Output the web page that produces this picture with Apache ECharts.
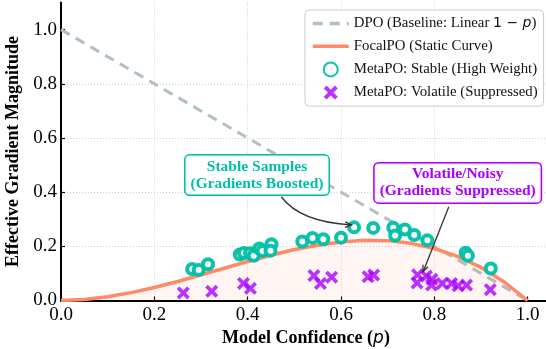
<!DOCTYPE html>
<html><head><meta charset="utf-8">
<script src="https://cdn.jsdelivr.net/npm/echarts@6/dist/echarts.min.js"></script>
<style>html,body{margin:0;padding:0;background:#fff}#c{width:546px;height:349px}</style>
</head><body><div id="c"></div>
<script>
// ---- data ----
const xTicks = [0, 0.2, 0.4, 0.6, 0.8, 1.0];
const yTicks = [0, 0.2, 0.4, 0.6, 0.8, 1.0];
const dpoP = [0, 1];
const dpoV = [1, 0];
const focalP = [0,0.05,0.1,0.15,0.2,0.25,0.3,0.35,0.4,0.45,0.5,0.55,0.6,0.65,0.7,0.75,0.8,0.85,0.9,0.95,1.0];
const focalV = [0,0.004,0.014,0.029,0.048,0.070,0.095,0.119,0.144,0.167,0.188,0.204,0.216,0.222,0.221,0.211,0.192,0.163,0.122,0.068,0];
const stableP = [0.281,0.295,0.315,0.383,0.392,0.405,0.413,0.425,0.432,0.451,0.449,0.517,0.539,0.562,0.600,0.628,0.669,0.712,0.716,0.737,0.757,0.785,0.867,0.872,0.921];
const stableV = [0.116,0.113,0.134,0.170,0.175,0.174,0.165,0.192,0.183,0.208,0.184,0.218,0.231,0.226,0.232,0.270,0.268,0.269,0.240,0.262,0.242,0.222,0.176,0.165,0.118];
const volP = [0.262,0.323,0.391,0.406,0.542,0.556,0.580,0.658,0.670,0.764,0.763,0.783,0.795,0.794,0.817,0.837,0.851,0.869,0.920];
const volV = [0.028,0.034,0.063,0.045,0.092,0.063,0.086,0.088,0.094,0.095,0.065,0.090,0.078,0.057,0.063,0.063,0.054,0.057,0.040];
const names = ['DPO (Baseline: Linear 1 − p)','FocalPO (Static Curve)','MetaPO: Stable (High Weight)','MetaPO: Volatile (Suppressed)'];
// annotations (data coords)
const annStable = {text:'Stable Samples\n(Gradients Boosted)', at:[0.42,0.463], from:[0.472,0.383], ctrl:[0.512,0.29], to:[0.6225,0.279]};
const annVol = {text:'Volatile/Noisy\n(Gradients Suppressed)', at:[0.85,0.434], from:[0.831,0.346], to:[0.776,0.106]};

const TEAL='#00BFA5', PURPLE='#AA00FF', SALMON='#FF8A65', GREY='#B0BEC5';
const SERIF='"Liberation Serif","Times New Roman",serif';
const XPATH='path://M0,2L2,0L5,3L8,0L10,2L7,5L10,8L8,10L5,7L2,10L0,8L3,5Z';
const zip=(a,b)=>a.map((v,i)=>[v,b[i]]);

const chart = echarts.init(document.getElementById('c'), null, {renderer:'canvas'});
const axisCommon = {
  axisLine:{show:true,onZero:false,lineStyle:{color:'#000',width:2}},
  axisTick:{show:true,inside:true,length:4,lineStyle:{color:'#000',width:1.2}},
  splitLine:{show:true,showMaxLine:false,showMinLine:false,lineStyle:{color:'#cfcfcf',type:[1,2],width:1}},
};
chart.setOption({
  animation:false,
  backgroundColor:'#fff',
  grid:{left:61,top:2.5,width:490,height:298,containLabel:false,outerBoundsMode:'none'},
  xAxis:Object.assign({type:'value',min:0,max:1.05,interval:0.2,
    name:'{b|Model Confidence (}{i|p}{b|)}',nameLocation:'middle',nameGap:28,
    nameTextStyle:{rich:{b:{fontFamily:SERIF,fontWeight:'bold',fontSize:18,color:'#000'},i:{fontFamily:'DejaVu Sans',fontStyle:'italic',fontSize:17,color:'#000'}}},
    axisLabel:{fontFamily:SERIF,fontSize:19,color:'#000',margin:5,showMaxLabel:false,formatter:v=>xTicks.some(t=>Math.abs(t-v)<1e-6)?v.toFixed(1):''}
  },axisCommon,{axisTick:Object.assign({},axisCommon.axisTick,{customValues:xTicks})}),
  yAxis:Object.assign({type:'value',min:0,max:1.1,interval:0.2,
    name:'Effective Gradient Magnitude',nameLocation:'middle',nameGap:34,nameRotate:90,
    nameTextStyle:{fontFamily:SERIF,fontWeight:'bold',fontSize:18,color:'#000'},
    axisLabel:{fontFamily:SERIF,fontSize:19,color:'#000',margin:4,showMaxLabel:false,formatter:v=>yTicks.some(t=>Math.abs(t-v)<1e-6)?v.toFixed(1):''}
  },axisCommon,{axisTick:Object.assign({},axisCommon.axisTick,{customValues:yTicks})}),
  legend:{orient:'vertical',left:305,top:10,padding:[6,6,6,6],itemGap:7.7,itemWidth:36,itemHeight:14,
    backgroundColor:'rgba(255,255,255,0.85)',borderColor:'#cccccc',borderWidth:1,borderRadius:4,
    lineStyle:{width:3.5},
    data:names,
    textStyle:{fontFamily:SERIF,fontSize:14.8,color:'#111',rich:{m:{fontFamily:'DejaVu Sans',fontSize:14,color:'#111'},mi:{fontFamily:'DejaVu Sans',fontStyle:'italic',fontSize:14,color:'#111'}}},
    formatter:n=>n===names[0]?'DPO (Baseline: Linear {m|1 − }{mi|p})':n
  },
  series:[
    {name:names[0],type:'line',data:zip(dpoP,dpoV),symbol:'none',z:2,
      lineStyle:{color:GREY,width:3,type:[10,7]},itemStyle:{color:'transparent',borderWidth:0}},
    {name:names[1],type:'line',data:zip(focalP,focalV),symbol:'none',smooth:false,z:3,
      lineStyle:{color:SALMON,width:3.5,join:'round'},itemStyle:{color:'transparent',borderWidth:0},areaStyle:{color:'rgba(255,138,101,0.12)'}},
    {name:names[2],type:'scatter',data:zip(stableP,stableV),symbol:'circle',symbolSize:10,z:4,
      itemStyle:{color:'#fff',borderColor:TEAL,borderWidth:4,opacity:0.95}},
    {name:names[3],type:'scatter',data:zip(volP,volV),symbol:XPATH,symbolSize:13,z:4,
      itemStyle:{color:PURPLE,borderWidth:0}}
  ]
});

function px(p){return chart.convertToPixel({gridIndex:0},p);}
function head(end,dir){
  const L=7,a=0.4, ang=Math.atan2(dir[1],dir[0]);
  const b1=[end[0]-L*Math.cos(ang-a),end[1]-L*Math.sin(ang-a)];
  const b2=[end[0]-L*Math.cos(ang+a),end[1]-L*Math.sin(ang+a)];
  return {type:'polyline',shape:{points:[b1,end,b2]},style:{stroke:'#333',lineWidth:1.3,fill:null},z:90};
}
function box(a,color){
  const p=px(a.at);
  return {type:'text',x:p[0],y:p[1],z:100,style:{text:a.text,font:'bold 15.5px '+SERIF,fill:color,align:'center',verticalAlign:'middle',lineHeight:17,
    backgroundColor:'rgba(255,255,255,0.92)',borderColor:color,borderWidth:1.5,borderRadius:4,padding:[3,5,2,5]}};
}
const s1=px(annStable.from),c1=px(annStable.ctrl),e1=px(annStable.to);
const s2=px(annVol.from),e2=px(annVol.to);
chart.setOption({graphic:[
  {type:'bezierCurve',shape:{x1:s1[0],y1:s1[1],cpx1:c1[0],cpy1:c1[1],x2:e1[0],y2:e1[1]},style:{stroke:'#333',lineWidth:1.3,fill:null},z:90},
  head(e1,[e1[0]-c1[0],e1[1]-c1[1]]),
  {type:'line',shape:{x1:s2[0],y1:s2[1],x2:e2[0],y2:e2[1]},style:{stroke:'#333',lineWidth:1.3},z:90},
  head(e2,[e2[0]-s2[0],e2[1]-s2[1]]),
  box(annStable,TEAL), box(annVol,PURPLE)
]});
</script></body></html>
